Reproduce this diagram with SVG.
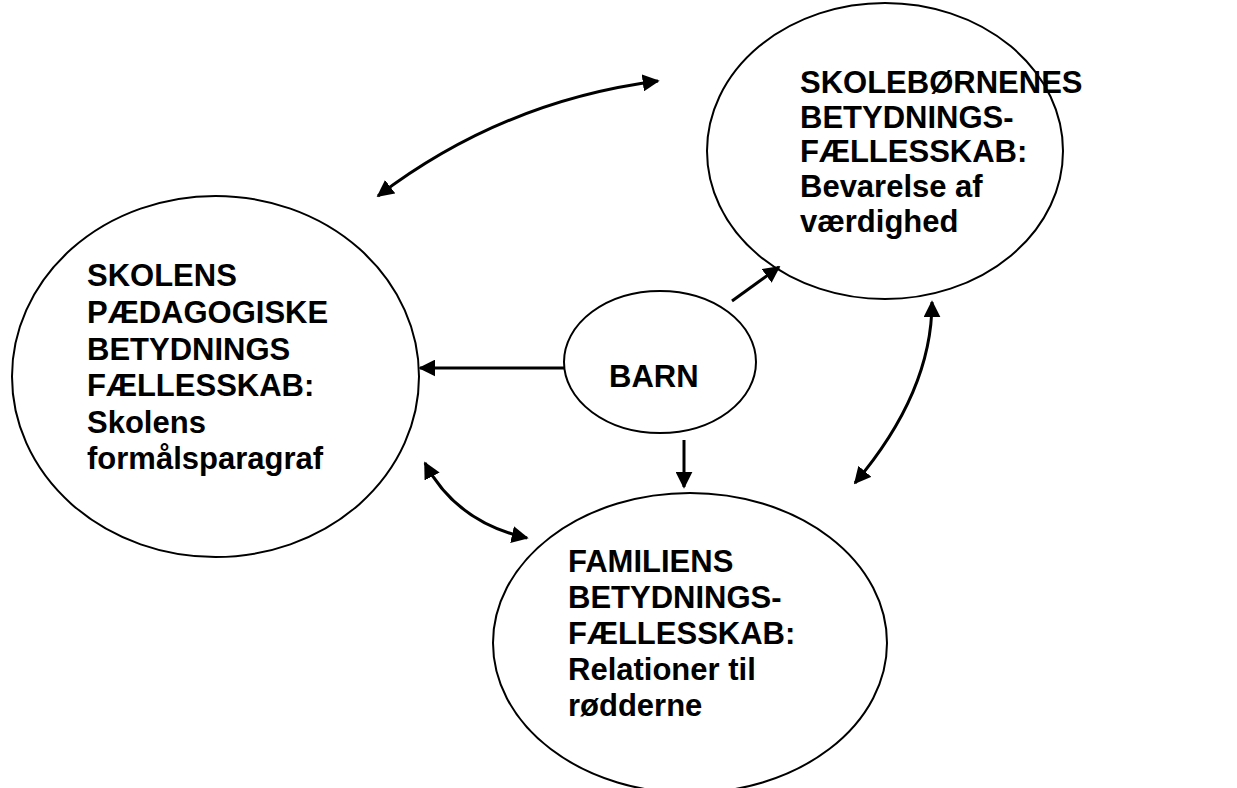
<svg xmlns="http://www.w3.org/2000/svg" width="1237" height="788" viewBox="0 0 1237 788">
<style>
.node{fill:#fff;stroke:#000;stroke-width:2}
.lbl{font-family:"Liberation Sans",Arial,sans-serif;font-weight:bold;font-size:31px;fill:#000}
.con{fill:none;stroke:#000;stroke-width:3}
</style>
<defs>
<marker id="ah" viewBox="0 0 10 10" refX="9" refY="5" markerUnits="userSpaceOnUse" markerWidth="17" markerHeight="17" orient="auto-start-reverse">
<path d="M0,0 L10,5 L0,10 z" fill="#000"/>
</marker>
</defs>
<rect width="1237" height="788" fill="#fff"/>
<g id="skolens">
<ellipse class="node" cx="215.5" cy="376.5" rx="203.5" ry="180.5"/>
<text class="lbl" x="87" y="286">SKOLENS</text>
<text class="lbl" x="87" y="323">PÆDAGOGISKE</text>
<text class="lbl" x="87" y="359.5">BETYDNINGS</text>
<text class="lbl" x="87" y="396">FÆLLESSKAB:</text>
<text class="lbl" x="87" y="433">Skolens</text>
<text class="lbl" x="87" y="469">formålsparagraf</text>
</g>
<g id="skoleboern">
<ellipse class="node" cx="885" cy="151" rx="178" ry="148"/>
<text class="lbl" x="800" y="93">SKOLEBØRNENES</text>
<text class="lbl" x="800" y="127.5">BETYDNINGS-</text>
<text class="lbl" x="800" y="162">FÆLLESSKAB:</text>
<text class="lbl" x="800" y="197">Bevarelse af</text>
<text class="lbl" x="800" y="232">værdighed</text>
</g>
<g id="familien">
<ellipse class="node" cx="690" cy="643" rx="197" ry="150"/>
<text class="lbl" x="568" y="572">FAMILIENS</text>
<text class="lbl" x="568" y="608">BETYDNINGS-</text>
<text class="lbl" x="568" y="644">FÆLLESSKAB:</text>
<text class="lbl" x="568" y="680">Relationer til</text>
<text class="lbl" x="568" y="716">rødderne</text>
</g>
<g id="barn">
<ellipse class="node" cx="660" cy="362" rx="96" ry="71"/>
<text class="lbl" x="609" y="387">BARN</text>
</g>
<g id="connectors">
<path class="con" d="M564,368 L420,368" marker-end="url(#ah)"/>
<path class="con" d="M732,301 L779,267" marker-end="url(#ah)"/>
<path class="con" d="M684,440 L684,487" marker-end="url(#ah)"/>
<path class="con" d="M378,196 Q503,101 658,81" marker-start="url(#ah)" marker-end="url(#ah)"/>
<path class="con" d="M425,463 Q456,522 527,538" marker-start="url(#ah)" marker-end="url(#ah)"/>
<path class="con" d="M932,302 Q932,392 855,483" marker-start="url(#ah)" marker-end="url(#ah)"/>
</g>
</svg>
